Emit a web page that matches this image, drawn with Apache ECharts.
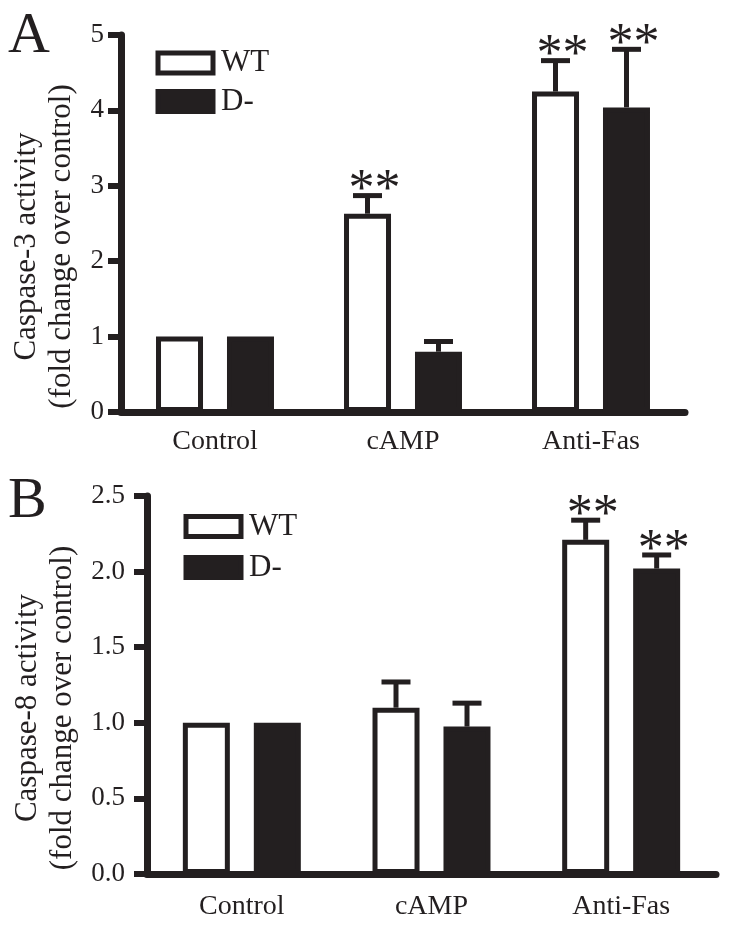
<!DOCTYPE html>
<html>
<head>
<meta charset="utf-8">
<script src="https://cdn.jsdelivr.net/npm/echarts@6/dist/echarts.min.js"></script>
<style>html,body{margin:0;padding:0;background:#fff;}#c{width:729px;height:926px;}</style>
</head>
<body>
<div id="c"></div>
<script>
const categories = ['Control', 'cAMP', 'Anti-Fas'];
const seriesNames = ['WT', 'D-'];

// Panel A: Caspase-3 activity
const casp3WT = [1.0, 2.63, 4.25];
const casp3WTErr = [0, 0.24, 0.41];
const casp3WTSig = ['', '**', '**'];
const casp3D = [1.0, 0.80, 4.04];
const casp3DErr = [0, 0.135, 0.77];
const casp3DSig = ['', '', '**'];
const ticksA = [0, 1, 2, 3, 4, 5];

// Panel B: Caspase-8 activity
const casp8WT = [1.0, 1.10, 2.21];
const casp8WTErr = [0, 0.17, 0.13];
const casp8WTSig = ['', '', '**'];
const casp8D = [1.0, 0.975, 2.02];
const casp8DErr = [0, 0.155, 0.09];
const casp8DSig = ['', '', '**'];
const ticksB = ['0.0', '0.5', '1.0', '1.5', '2.0', '2.5'];

const INK = '#231f20';
const FONT = "'Liberation Serif', 'Times New Roman', serif";

function errRender(offset, sigs) {
  return function (params, api) {
    const cat = api.value(0), v = api.value(1), e = api.value(2);
    const base = api.coord([cat, v]);
    const top = api.coord([cat, v + e]);
    const x = base[0] + offset;
    const children = [];
    if (e > 0) {
      children.push({type: 'line', shape: {x1: x, y1: base[1], x2: x, y2: top[1]},
        style: {stroke: INK, lineWidth: 5}});
      children.push({type: 'line', shape: {x1: x - 14.5, y1: top[1], x2: x + 14.5, y2: top[1]},
        style: {stroke: INK, lineWidth: 5}});
    }
    const s = sigs[params.dataIndex];
    if (s) {
      children.push({type: 'text', x: x + 7, y: top[1] - 4,
        style: {text: s, fill: INK, font: '52px ' + FONT, align: 'center', verticalAlign: 'middle'}});
    }
    return {type: 'group', children: children};
  };
}

function errData(vals, errs) {
  return vals.map((v, i) => [i, v, errs[i]]);
}

const barBase = {type: 'bar', barWidth: 47, barGap: '51%'};
const wtStyle = {color: '#fff', borderColor: INK, borderWidth: 5};
const dStyle = {color: INK, borderColor: INK, borderWidth: 5};

function makeY(gi, max, interval, fmt, name, gap, margin) {
  return {
    type: 'value', gridIndex: gi, min: 0, max: max, interval: interval,
    splitLine: {show: false},
    axisLine: {show: true, lineStyle: {color: INK, width: 7}},
    axisTick: {show: true, length: 13, lineStyle: {color: INK, width: 6}},
    axisLabel: {color: INK, fontSize: 27, fontFamily: FONT, margin: margin, formatter: fmt},
    name: name, nameLocation: 'middle', nameRotate: 90, nameGap: gap,
    nameTextStyle: {color: INK, fontSize: 31, fontFamily: FONT, lineHeight: 35, padding: [0, 46, 0, 0]}
  };
}
function makeX(gi, margin) {
  return {
    type: 'category', gridIndex: gi, data: categories,
    axisLine: {show: true, lineStyle: {color: INK, width: 7}},
    axisTick: {show: false},
    axisLabel: {color: INK, fontSize: 28, fontFamily: FONT, margin: margin}
  };
}
function legendAt(left, top, gap) {
  return {
    orient: 'vertical', left: left, top: top, padding: 0, icon: 'rect',
    itemWidth: 55, itemHeight: 20, itemGap: gap,
    data: [
      {name: seriesNames[0], itemStyle: {color: '#fff', borderColor: INK, borderWidth: 5}},
      {name: seriesNames[1], itemStyle: {color: INK, borderColor: INK, borderWidth: 5}}
    ],
    textStyle: {color: INK, fontSize: 31, fontFamily: FONT, lineHeight: 30, padding: [0, 0, 0, 3]},
    selectedMode: false
  };
}

const chart = echarts.init(document.getElementById('c'), null, {renderer: 'canvas'});
chart.setOption({
  animation: false,
  backgroundColor: '#fff',
  title: [
    {text: 'A', left: 8, top: 8, padding: 0, textStyle: {fontSize: 58, fontWeight: 'normal', color: INK, fontFamily: FONT}},
    {text: 'B', left: 8, top: 473, padding: 0, textStyle: {fontSize: 58, fontWeight: 'normal', color: INK, fontFamily: FONT}}
  ],
  legend: [legendAt(155.5, 47.5, 7.5), legendAt(183.5, 511, 10)],
  grid: [
    {left: 121, top: 35, width: 564, height: 377},
    {left: 147, top: 496, width: 569, height: 378}
  ],
  xAxis: [makeX(0, 16), makeX(1, 19)],
  yAxis: [
    makeY(0, ticksA[ticksA.length - 1], ticksA[1] - ticksA[0], v => String(v),
      'Caspase-3 activity\n(fold change over control)', 39, 17),
    makeY(1, parseFloat(ticksB[ticksB.length - 1]), parseFloat(ticksB[1]), v => v.toFixed(1),
      'Caspase-8 activity\n(fold change over control)', 63, 22)
  ],
  series: [
    Object.assign({}, barBase, {name: seriesNames[0], xAxisIndex: 0, yAxisIndex: 0, data: casp3WT, itemStyle: wtStyle}),
    Object.assign({}, barBase, {name: seriesNames[1], xAxisIndex: 0, yAxisIndex: 0, data: casp3D, itemStyle: dStyle}),
    Object.assign({}, barBase, {name: seriesNames[0], xAxisIndex: 1, yAxisIndex: 1, data: casp8WT, itemStyle: wtStyle}),
    Object.assign({}, barBase, {name: seriesNames[1], xAxisIndex: 1, yAxisIndex: 1, data: casp8D, itemStyle: dStyle}),
    {type: 'custom', xAxisIndex: 0, yAxisIndex: 0, clip: false, z: 5, renderItem: errRender(-35.5, casp3WTSig), data: errData(casp3WT, casp3WTErr)},
    {type: 'custom', xAxisIndex: 0, yAxisIndex: 0, clip: false, z: 5, renderItem: errRender(35.5, casp3DSig), data: errData(casp3D, casp3DErr)},
    {type: 'custom', xAxisIndex: 1, yAxisIndex: 1, clip: false, z: 5, renderItem: errRender(-35.5, casp8WTSig), data: errData(casp8WT, casp8WTErr)},
    {type: 'custom', xAxisIndex: 1, yAxisIndex: 1, clip: false, z: 5, renderItem: errRender(35.5, casp8DSig), data: errData(casp8D, casp8DErr)}
  ]
});
</script>
</body>
</html>
